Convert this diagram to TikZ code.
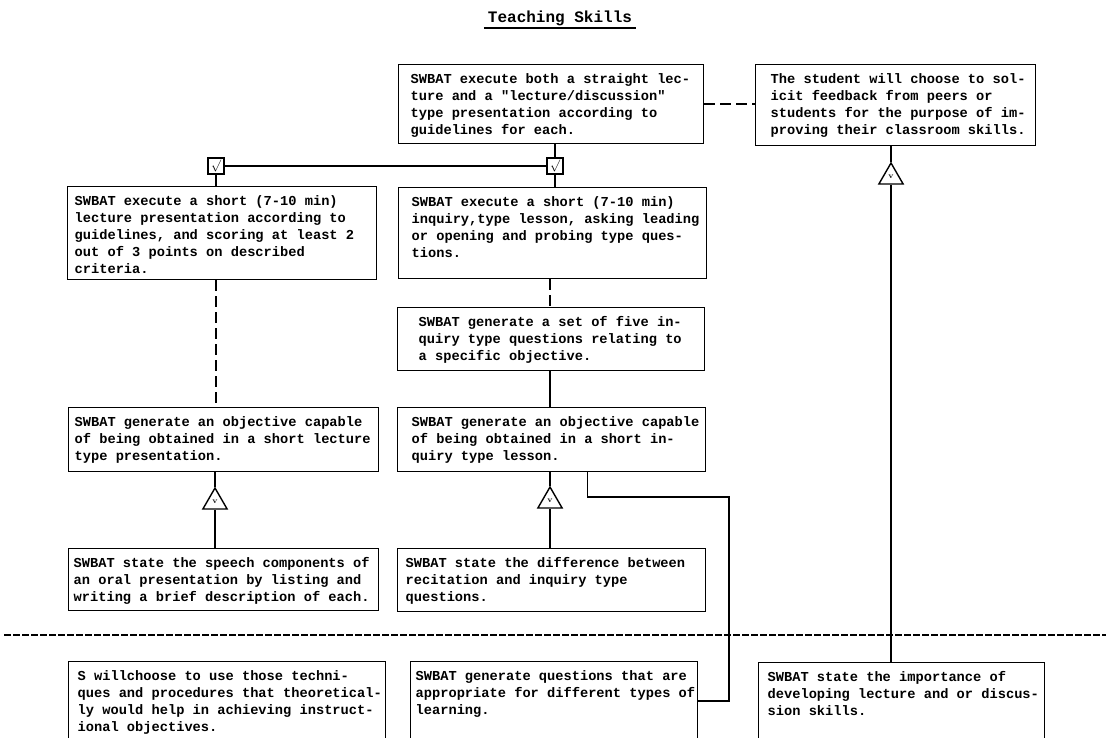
\documentclass[tikz,border=0pt]{standalone}
\usepackage{fontspec}
\setmonofont{Liberation Mono}
\usetikzlibrary{shapes.geometric}
\newcommand{\objfont}{\ttfamily\bfseries\fontsize{13.7}{17}\selectfont}
\newcommand{\objtxt}[4]{\parbox[c][#2][t]{#1}{\raggedright\leftskip=#3\vspace*{6.6pt}\strut #4}}

\begin{document}
\begin{tikzpicture}[x=1pt, y=-1pt,
        obj/.style={draw, line width=1.3pt, inner sep=0pt, anchor=north west, font=\objfont},
        chk/.style={draw, line width=1.3pt, fill=white, minimum size=16pt, inner sep=0pt, font=\large},
        tri/.style={regular polygon, regular polygon sides=3, draw, line width=1.4pt, fill=white,
            minimum size=28pt, inner sep=0pt, font=\bfseries\fontsize{8}{8}\selectfont},
        ln/.style={line width=1.4pt},
        dln/.style={line width=1.4pt, dash pattern=on 11pt off 5pt},
        sepln/.style={line width=1.2pt, dash pattern=on 7pt off 2pt}]
    \useasboundingbox (0,0) rectangle (1110,737);
    % title
    \node[font=\ttfamily\bfseries\fontsize{16}{18}\selectfont, inner xsep=4pt, inner ysep=2.5pt] (title) at (560,18) {Teaching Skills};
    \draw[line width=1.8pt] (title.south west) -- (title.south east);
    % upper objectives
    \node[obj] (T) at (398,64) {\objtxt{305pt}{79pt}{12pt}{SWBAT execute both a straight lec-\\ture and a "lecture/discussion"\\type presentation according to\\guidelines for each.}};
    \node[obj] (R) at (755,64) {\objtxt{280pt}{81pt}{15pt}{The student will choose to sol-\\icit feedback from peers or\\students for the purpose of im-\\proving their classroom skills.}};
    \node[obj] (L1) at (67,186) {\objtxt{309pt}{93pt}{7pt}{SWBAT execute a short (7-10 min)\\lecture presentation according to\\guidelines, and scoring at least 2\\out of 3 points on described\\criteria.}};
    \node[obj] (M1) at (398,187) {\objtxt{308pt}{91pt}{13pt}{SWBAT execute a short (7-10 min)\\inquiry,type lesson, asking leading\\or opening and probing type ques-\\tions.}};
    \node[obj] (M2) at (397,307) {\objtxt{307pt}{63pt}{21pt}{SWBAT generate a set of five in-\\quiry type questions relating to\\a specific objective.}};
    \node[obj] (L2) at (68,407) {\objtxt{310pt}{64pt}{6pt}{SWBAT generate an objective capable\\of being obtained in a short lecture\\type presentation.}};
    \node[obj] (M3) at (397,407) {\objtxt{308pt}{64pt}{14pt}{SWBAT generate an objective capable\\of being obtained in a short in-\\quiry type lesson.}};
    \node[obj] (L3) at (68,548) {\objtxt{310pt}{62pt}{5pt}{SWBAT state the speech components of\\an oral presentation by listing and\\writing a brief description of each.}};
    \node[obj] (M4) at (397,548) {\objtxt{308pt}{63pt}{8pt}{SWBAT state the difference between\\recitation and inquiry type\\questions.}};
    % below the line
    \node[obj] (B1) at (68,661) {\objtxt{317pt}{79pt}{9pt}{S willchoose to use those techni-\\ques and procedures that theoretical-\\ly would help in achieving instruct-\\ional objectives.}};
    \node[obj] (B2) at (410,661) {\objtxt{287pt}{79pt}{5pt}{SWBAT generate questions that are\\appropriate for different types of\\learning.}};
    \node[obj] (B3) at (758,662) {\objtxt{286pt}{78pt}{9pt}{SWBAT state the importance of\\developing lecture and or discus-\\sion skills.}};
    % checks and triangles
    \node[chk] (cl) at (216,166) {$\surd$};
    \node[chk] (cm) at (555,166) {$\surd$};
    \node[tri] (tl) at (215,502) {v};
    \node[tri] (tm) at (550,501) {v};
    \node[tri] (tr) at (891,177) {v};
    \coordinate (sepL) at (4,635);
    \coordinate (sepR) at (1106,635);
    % connectors
    \draw[ln] (T.south -| cm) -- (cm);
    \draw[ln] (cm) -- (M1.north -| cm);
    \draw[ln] (cl) -- (cm);
    \draw[ln] (cl) -- (L1.north -| cl);
    \draw[dln] (T.east) -- (T.east -| R.west);
    \draw[dln] (L1.south -| cl) -- (L2.north -| cl);
    \draw[dln] (M1.south -| tm) -- (M2.north -| tm);
    \draw[ln] (M2.south -| tm) -- (M3.north -| tm);
    \foreach \u/\t/\d in {L2/tl/L3, M3/tm/M4, R/tr/B3} {
        \draw[ln] (\u.south -| \t) -- (\t.corner 1);
        \draw[ln] (\t.side 2) -- (\d.north -| \t);
    }
    \draw[ln] ([xshift=36pt]M3.south) |- (729,497) |- (B2.east);
    \draw[sepln] (sepL) -- (sepR);
\end{tikzpicture}
\end{document}
